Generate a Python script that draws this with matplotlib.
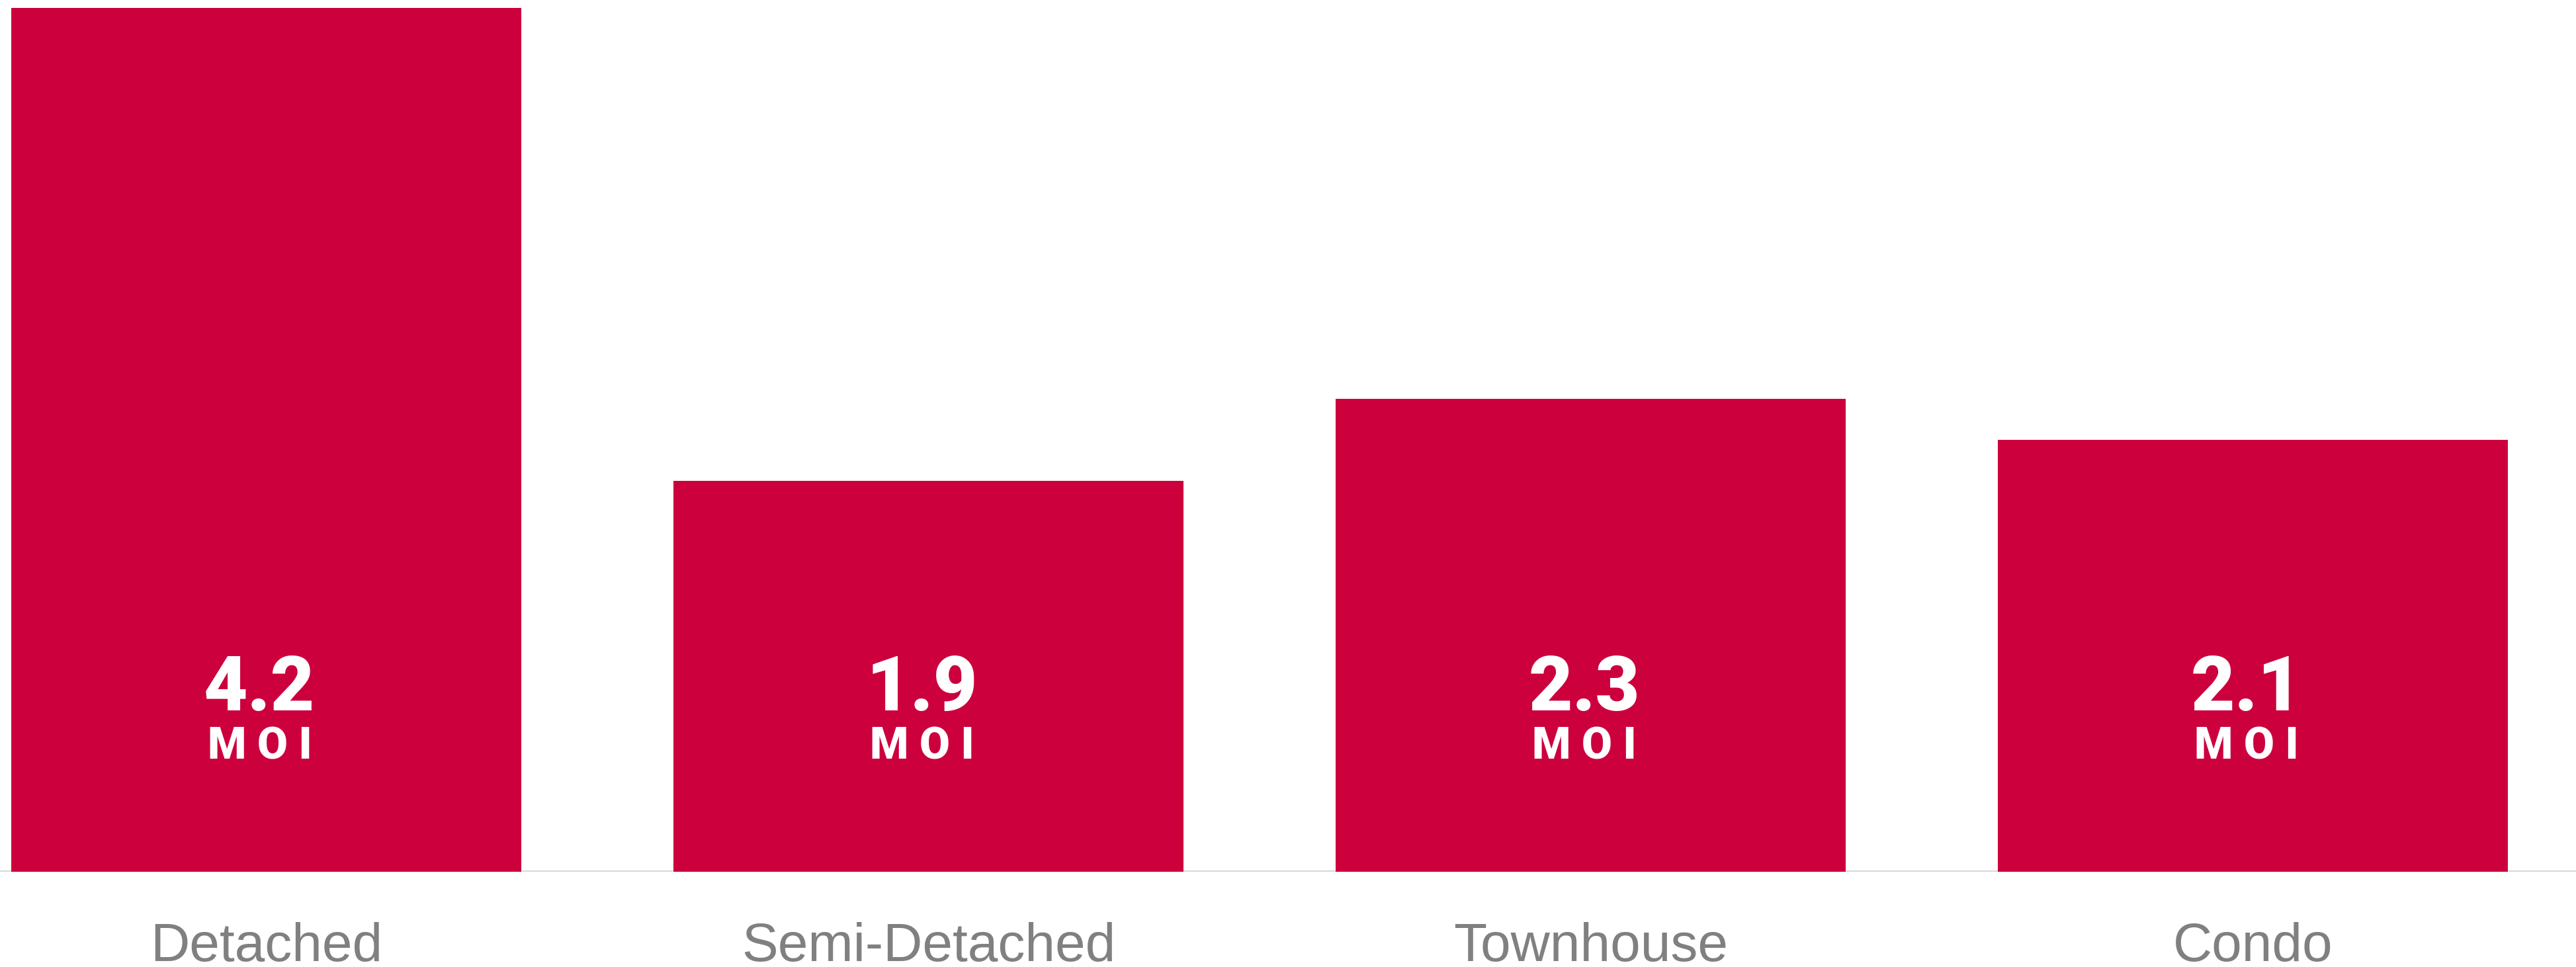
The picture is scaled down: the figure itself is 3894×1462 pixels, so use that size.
import matplotlib.pyplot as plt

# Months of inventory by home type
categories = ["Detached", "Semi-Detached", "Townhouse", "Condo"]
moi_values = [4.2, 1.9, 2.3, 2.1]
value_labels = ["4.2", "1.9", "2.3", "2.1"]

bar_color = "#CC003D"
label_color = "#808080"

fig = plt.figure(figsize=(38.94, 14.62), dpi=100)
ax = fig.add_axes([0, 0.0985, 1, 0.8933])

x = list(range(len(categories)))
ax.bar(x, moi_values, width=0.77, color=bar_color, zorder=2)

ax.set_xlim(-0.402, 3.488)
ax.set_ylim(0, 4.2)

# value + unit inside each bar (slightly left of centre, as in the original)
for xi, lab in zip(x, value_labels):
    ax.text(xi - 0.01, 0.885, lab, ha="center", va="center", color="white",
            fontsize=83, fontweight="heavy", family=["Roboto", "DejaVu Sans"], zorder=3)
    ax.text(xi - 0.01, 0.607, "M O I", ha="center", va="center", color="white",
            fontsize=48, fontweight="heavy", family=["Roboto", "DejaVu Sans"], zorder=3)

# category names below the baseline
for xi, cat in zip(x, categories):
    ax.text(xi, -0.087, cat, ha="center", va="center", color=label_color,
            fontsize=59, family=["Liberation Sans", "DejaVu Sans"],
            transform=ax.get_xaxis_transform())

ax.axhline(0, color="#d9d9d9", linewidth=3, zorder=1)

for s in ax.spines.values():
    s.set_visible(False)
ax.set_xticks([])
ax.set_yticks([])

fig.savefig("out.png", dpi=100)
